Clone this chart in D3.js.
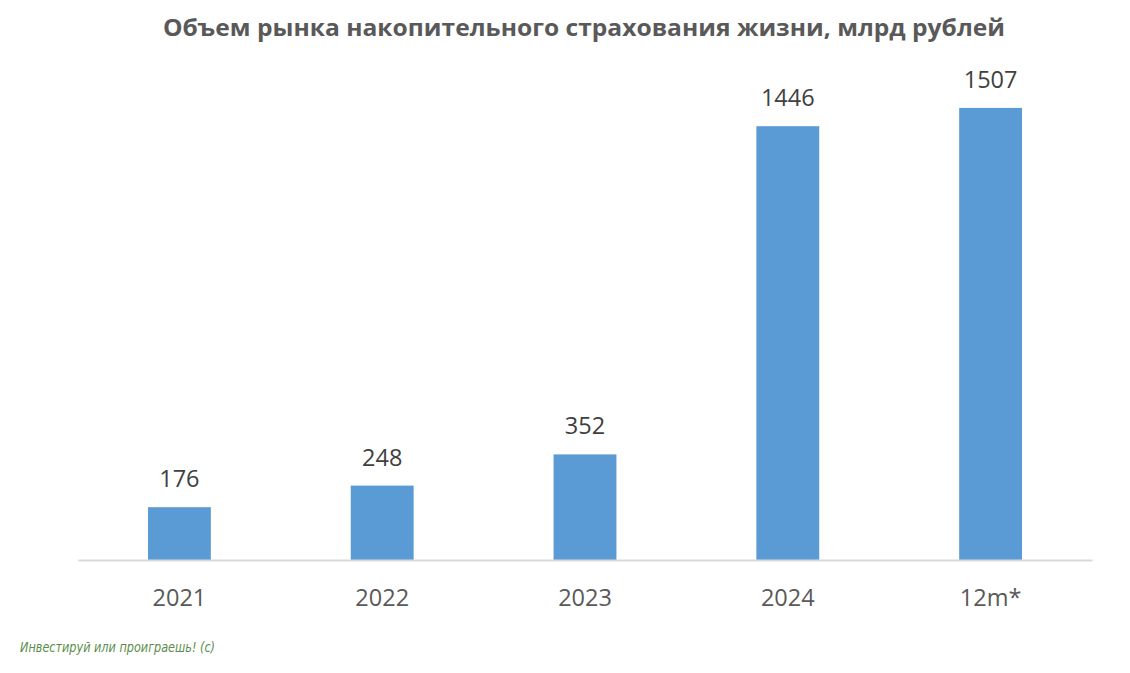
<!DOCTYPE html>
<html><head><meta charset="utf-8">
<script src="https://cdn.jsdelivr.net/npm/d3@7"></script>
<style>body{margin:0;background:#fff}svg{display:block}</style>
</head><body>
<script>
const categories = ["2021","2022","2023","2024","12m*"];
const values = [176, 248, 352, 1446, 1507];
const title = "Объем рынка накопительного страхования жизни, млрд рублей";
const watermark = "Инвестируй или проиграешь! (с)";

const W = 1130, H = 673;
const svg = d3.select("body").append("svg").attr("width", W).attr("height", H);
svg.append("rect").attr("width", W).attr("height", H).attr("fill", "#fff");

const x = d3.scaleBand().domain(categories).range([78, 1092]).paddingInner(0.69).paddingOuter(0.345);
const y = d3.scaleLinear().domain([0, 1600]).range([560, 80]);

svg.append("text").attr("x", 584).attr("y", 36).attr("text-anchor", "middle")
  .attr("font-family", "Open Sans, sans-serif").attr("font-weight", "bold").attr("font-size", 24)
  .attr("fill", "#595959").attr("textLength", 842).attr("lengthAdjust", "spacingAndGlyphs").text(title);

svg.selectAll("rect.bar").data(values).join("rect").attr("class", "bar")
  .attr("x", (d, i) => x(categories[i])).attr("width", x.bandwidth())
  .attr("y", d => y(d)).attr("height", d => y(0) - y(d)).attr("fill", "#5b9bd5");

svg.selectAll("text.val").data(values).join("text").attr("class", "val")
  .attr("x", (d, i) => x(categories[i]) + x.bandwidth() / 2).attr("y", d => y(d) - 20)
  .attr("text-anchor", "middle").attr("font-family", "Open Sans, sans-serif").attr("font-size", 23.5)
  .attr("fill", "#404040").text(d => d);

const ax = svg.append("g").attr("transform", "translate(0,560)")
  .call(d3.axisBottom(x).tickSize(0).tickPadding(0));
ax.select(".domain").attr("stroke", "#d9d9d9").attr("stroke-width", 2);
ax.selectAll("text").attr("y", 46).attr("dy", null).attr("font-family", "Open Sans, sans-serif")
  .attr("font-size", 23.5).attr("fill", "#595959");

svg.append("text").attr("x", 20).attr("y", 652).attr("font-family", "DejaVu Sans, sans-serif")
  .attr("font-style", "italic").attr("font-size", 14).attr("fill", "#5b8c4c")
  .attr("textLength", 195).attr("lengthAdjust", "spacingAndGlyphs").text(watermark);
</script>
</body></html>
